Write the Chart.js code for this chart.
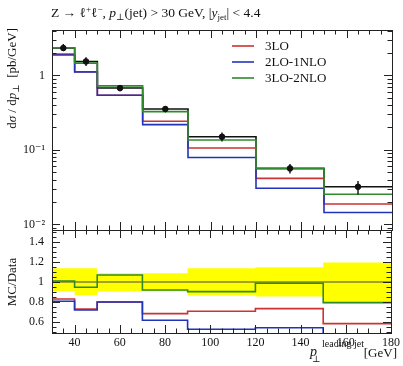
<!DOCTYPE html>
<html>
<head>
<meta charset="utf-8">
<script src="https://cdn.jsdelivr.net/npm/chart.js@4.4.1/dist/chart.umd.min.js"></script>
<style>
  html, body { margin: 0; padding: 0; background: #fff; }
  #wrap { position: relative; width: 403px; height: 366px; }
  #wrap canvas { position: absolute; left: 0; top: 0; }
</style>
</head>
<body>
<div id="wrap">
  <canvas id="main" width="403" height="366"></canvas>
  <canvas id="ratio" width="403" height="366"></canvas>
</div>
<script>
// bins in p_T of the leading jet [GeV]
const binEdges = [30, 40, 50, 70, 90, 120, 150, 180];
const dataX = [35, 45, 60, 80, 105, 135, 165];
const xTicks = [40, 60, 80, 100, 120, 140, 160, 180];

// measured cross section [pb/GeV]
const dataY = [2.33, 1.54, 0.676, 0.354, 0.150, 0.0564, 0.0320];
// data uncertainty band (relative)
const bandHi = [1.137, 1.137, 1.087, 1.087, 1.137, 1.147, 1.194];
const bandLo = [0.910, 0.870, 0.904, 0.904, 0.864, 0.854, 0.785];

// MC predictions [pb/GeV]
const mc3LO = [1.93, 1.12, 0.541, 0.242, 0.106, 0.0414, 0.0188];
const mc2LO1NLO = [1.88, 1.11, 0.541, 0.218, 0.079, 0.0306, 0.0144];
const mc3LO2NLO = [2.35, 1.46, 0.723, 0.326, 0.136, 0.0557, 0.0254];

// MC / Data
const ratio3LO = [0.83, 0.73, 0.80, 0.684, 0.707, 0.734, 0.584];
const ratio2LO1NLO = [0.807, 0.72, 0.80, 0.617, 0.527, 0.542, 0.45];
const ratio3LO2NLO = [1.01, 0.947, 1.07, 0.92, 0.904, 0.987, 0.794];

const seriesNames = ['3LO', '2LO-1NLO', '3LO-2NLO'];
const seriesColors = ['#cc3333', '#2233bb', '#2f8a2f'];

const mainTicks = [0.01, 0.1, 1];
const mainTickLabels = ['10\u207B\u00B2', '10\u207B\u00B9', '1'];
const ratioTicks = [0.6, 0.8, 1, 1.2, 1.4];
const ratioTickLabels = ['0.6', '0.8', '1', '1.2', '1.4'];

const SERIF = '"Liberation Serif", "DejaVu Serif", serif';

function toSteps(values) {
    return binEdges.map((x, i) => ({ x, y: values[Math.min(i, values.length - 1)] }));
}

function errorBars() {
    const pts = [];
    dataX.forEach((x, i) => {
        pts.push({ x, y: dataY[i] * bandLo[i] });
        pts.push({ x, y: dataY[i] * bandHi[i] });
        pts.push({ x, y: null });
    });
    return pts;
}

function stepSet(label, values, color, order, width) {
    return {
        label, data: toSteps(values), borderColor: color, borderWidth: width || 1.6,
        stepped: true, pointRadius: 0, fill: false, order
    };
}

// draw a run of text pieces: [text, font, dy]
function rich(ctx, parts, x, y, align) {
    let w = 0;
    parts.forEach(p => { ctx.font = p[1]; w += ctx.measureText(p[0]).width; });
    let cx = align === 'right' ? x - w : align === 'center' ? x - w / 2 : x;
    parts.forEach(p => {
        ctx.font = p[1];
        ctx.fillText(p[0], cx, y + (p[2] || 0));
        cx += ctx.measureText(p[0]).width;
    });
}

const f = (size, style) => (style || '') + ' ' + size + 'px ' + SERIF;

// inward tick marks and frame, like the plotting style of the reference
const framePlugin = {
    id: 'frame',
    afterDraw(chart, args, opts) {
        const { ctx, chartArea: a } = chart;
        const xs = chart.scales.x, ys = chart.scales.y;
        ctx.save();
        ctx.strokeStyle = '#222';
        ctx.lineWidth = 1;
        ctx.beginPath();
        for (let v = 30; v <= 180; v += 5) {
            const px = Math.round(xs.getPixelForValue(v)) + 0.5;
            const len = v % 20 === 0 ? 8 : 4.5;
            ctx.moveTo(px, a.top); ctx.lineTo(px, a.top + len);
            ctx.moveTo(px, a.bottom); ctx.lineTo(px, a.bottom - len);
        }
        const yt = [];
        if (opts.log) {
            for (let n = -3; n <= 1; n++) {
                for (let k = 1; k <= 9; k++) {
                    const v = k * Math.pow(10, n);
                    if (v >= ys.min && v <= ys.max) yt.push([v, k === 1]);
                }
            }
        } else {
            for (let i = 10; i <= 30; i++) {
                const v = i * 0.05;
                if (v >= ys.min && v <= ys.max) yt.push([v, i % 4 === 0]);
            }
        }
        yt.forEach(([v, major]) => {
            const py = Math.round(ys.getPixelForValue(v)) + 0.5;
            const len = major ? 8 : 4.5;
            ctx.moveTo(a.left, py); ctx.lineTo(a.left + len, py);
            ctx.moveTo(a.right, py); ctx.lineTo(a.right - len, py);
        });
        ctx.stroke();
        ctx.strokeRect(Math.round(a.left) + 0.5, Math.round(a.top) + 0.5,
            Math.round(a.right - a.left), Math.round(a.bottom - a.top));
        ctx.restore();
    }
};

const mainText = {
    id: 'mainText',
    afterDraw(chart) {
        const ctx = chart.ctx;
        ctx.save();
        ctx.fillStyle = '#111';
        ctx.textBaseline = 'alphabetic';
        // title
        rich(ctx, [
            ['Z \u2192 \u2113', f(13.5)], ['+', f(9), -5], ['\u2113', f(13.5)], ['\u2212', f(9), -5],
            [', ', f(13.5)], ['p', f(13.5, 'italic')], ['\u22A5', f(9), 3], ['(jet) > 30 GeV, |', f(13.5)],
            ['y', f(13.5, 'italic')], ['jet', f(9), 3], ['| < 4.4', f(13.5)]
        ], 51, 17, 'left');
        // y title
        ctx.translate(16, 28);
        ctx.rotate(-Math.PI / 2);
        rich(ctx, [
            ['d', f(13)], ['\u03C3', f(13, 'italic')], [' / d', f(13)], ['p', f(13, 'italic')],
            ['\u22A5', f(9), 3], ['  [pb/GeV]', f(13)]
        ], 0, 0, 'right');
        ctx.restore();

        // legend
        ctx.save();
        ctx.textBaseline = 'middle';
        const rows = [46, 62, 78];
        seriesNames.forEach((name, i) => {
            ctx.strokeStyle = seriesColors[i];
            ctx.lineWidth = 1.6;
            ctx.beginPath();
            ctx.moveTo(232, rows[i]); ctx.lineTo(254, rows[i]);
            ctx.stroke();
            ctx.fillStyle = '#111';
            ctx.font = f(13);
            ctx.fillText(name, 265, rows[i] + 1);
        });
        ctx.restore();
    }
};

const ratioText = {
    id: 'ratioText',
    afterDraw(chart) {
        const ctx = chart.ctx;
        ctx.save();
        ctx.fillStyle = '#111';
        ctx.textBaseline = 'alphabetic';
        // x title: p_perp^{leading jet} [GeV]
        ctx.font = f(14, 'italic');
        ctx.fillText('p', 310, 356);
        ctx.font = f(9);
        ctx.fillText('\u22A5', 312, 362);
        ctx.font = f(10);
        ctx.fillText('leading jet', 322, 347);
        ctx.font = f(13);
        ctx.textAlign = 'right';
        ctx.fillText('[GeV]', 397, 357);
        ctx.textAlign = 'left';
        // y title
        ctx.translate(16, 282);
        ctx.rotate(-Math.PI / 2);
        rich(ctx, [['MC/Data', f(13)]], 0, 0, 'center');
        ctx.restore();
    }
};

const common = {
    responsive: false,
    animation: false,
    events: [],
    plugins: { legend: { display: false }, tooltip: { enabled: false }, title: { display: false } }
};

new Chart(document.getElementById('main'), {
    type: 'line',
    data: {
        datasets: [
            stepSet('Data', dataY, '#111', 6, 1.6),
            stepSet(seriesNames[0], mc3LO, seriesColors[0], 4),
            stepSet(seriesNames[1], mc2LO1NLO, seriesColors[1], 3),
            stepSet(seriesNames[2], mc3LO2NLO, seriesColors[2], 2),
            {
                label: 'err', data: errorBars(), borderColor: '#111', borderWidth: 1.4,
                pointRadius: 0, spanGaps: false, order: 1
            },
            {
                label: 'points', data: dataX.map((x, i) => ({ x, y: dataY[i] })), showLine: false,
                pointRadius: 2.8, pointBackgroundColor: '#111', pointBorderColor: '#111', order: 0
            }
        ]
    },
    options: {
        ...common,
        layout: { padding: { left: 0, right: 11, top: 30, bottom: 136 } },
        scales: {
            x: { type: 'linear', min: 30, max: 180, display: false },
            y: {
                type: 'logarithmic', min: 0.0084, max: 4.07,
                grid: { display: false, drawTicks: false }, border: { display: false },
                afterBuildTicks: s => { s.ticks = mainTicks.map(v => ({ value: v })); },
                afterFit: s => { s.width = 52; },
                ticks: {
                    padding: 7, color: '#111', font: { family: SERIF, size: 12 },
                    callback: v => mainTickLabels[mainTicks.indexOf(v)]
                }
            }
        },
        plugins: { ...common.plugins, frame: { log: true } }
    },
    plugins: [framePlugin, mainText]
});

new Chart(document.getElementById('ratio'), {
    type: 'line',
    data: {
        datasets: [
            {
                label: 'bandHi', data: toSteps(bandHi), stepped: true, borderWidth: 0, pointRadius: 0,
                backgroundColor: '#ffff00', fill: '+1', order: 10
            },
            {
                label: 'bandLo', data: toSteps(bandLo), stepped: true, borderWidth: 0, pointRadius: 0,
                fill: false, order: 9
            },
            {
                label: 'unity', data: [{ x: 30, y: 1 }, { x: 180, y: 1 }], borderColor: '#444',
                borderWidth: 1, pointRadius: 0, order: 8
            },
            stepSet(seriesNames[0], ratio3LO, seriesColors[0], 4),
            stepSet(seriesNames[1], ratio2LO1NLO, seriesColors[1], 3),
            stepSet(seriesNames[2], ratio3LO2NLO, seriesColors[2], 2)
        ]
    },
    options: {
        ...common,
        layout: { padding: { left: 0, right: 11, top: 230, bottom: 13 } },
        scales: {
            x: {
                type: 'linear', min: 30, max: 180,
                grid: { display: false, drawTicks: false }, border: { display: false },
                afterBuildTicks: s => { s.ticks = xTicks.map(v => ({ value: v })); },
                afterFit: s => { s.height = 20; },
                ticks: { padding: 3, color: '#111', maxRotation: 0, font: { family: SERIF, size: 12 } }
            },
            y: {
                type: 'linear', min: 0.49, max: 1.52,
                grid: { display: false, drawTicks: false }, border: { display: false },
                afterBuildTicks: s => { s.ticks = ratioTicks.map(v => ({ value: v })); },
                afterFit: s => { s.width = 52; },
                ticks: {
                    padding: 8, color: '#111', font: { family: SERIF, size: 12 },
                    callback: v => ratioTickLabels[ratioTicks.indexOf(v)]
                }
            }
        },
        plugins: { ...common.plugins, frame: { log: false } }
    },
    plugins: [framePlugin, ratioText]
});
</script>
</body>
</html>
